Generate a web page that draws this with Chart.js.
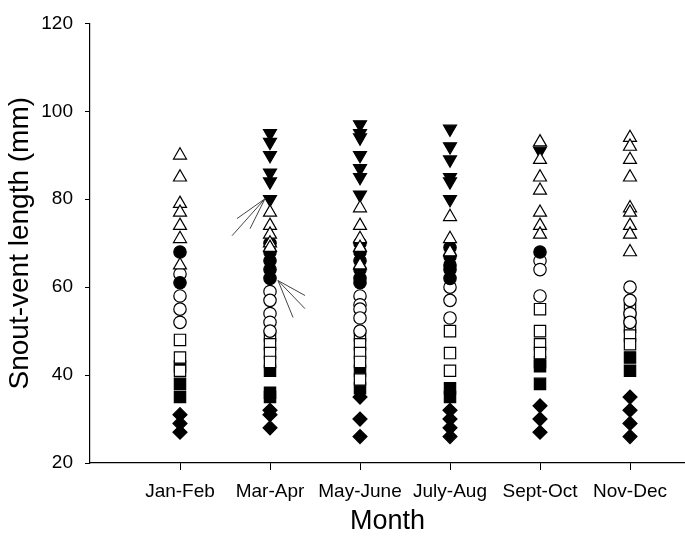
<!DOCTYPE html>
<html>
<head>
<meta charset="utf-8">
<script src="https://cdn.jsdelivr.net/npm/chart.js@4.4.1/dist/chart.umd.min.js"></script>
<style>
  body { margin: 0; background: #fff; }
  canvas { display: block; }
</style>
</head>
<body>
<canvas id="svlChart" width="685" height="541"></canvas>
<script>
// Month groups on the x axis
const months = ["Jan-Feb", "Mar-Apr", "May-June", "July-Aug", "Sept-Oct", "Nov-Dec"];
const yTicks = [20, 40, 60, 80, 100, 120];

// Snout-vent length (mm) per month group, one list per marker type
const filledDiamonds = [[31, 29, 27], [32, 31, 28], [35, 30, 26], [32, 30, 28, 26], [33, 30, 27], [35, 32, 29, 26]];
const filledSquares = [[42, 38, 35], [41, 36, 35], [41, 37], [37, 35], [43, 42, 38], [44, 41]];
const openSquares = [[48, 44, 41], [49, 47, 45, 43], [49, 47, 45, 43, 39], [50, 45, 41], [55, 50, 47, 45], [55, 53, 51, 49, 47]];
const openCircles = [[63, 58, 55, 52], [59, 57, 54, 52, 50], [58, 56, 55, 53, 50], [60, 57, 53], [66, 64, 58], [60, 57, 54, 52]];
const filledCircles = [[68, 61], [70, 68, 66, 64, 62], [70, 68, 66, 64, 62, 61], [69, 67, 65, 64, 62], [68], []];
const openTriangles = [[90, 85, 79, 77, 74, 71, 65], [77, 74, 72, 70, 69], [78, 74, 71, 69, 65], [76, 71, 68], [93, 89, 85, 82, 77, 74, 72], [94, 92, 89, 85, 78, 77, 74, 72, 68]];
const filledDownTriangles = [[], [95, 93, 90, 86, 84, 80], [97, 95, 94, 90, 87, 85, 81], [96, 92, 89, 85, 84, 80], [91], []];

// Annotation arrows in Mar-Apr (tip first, then line ends), in axis units
const arrowUpper = [[0.944, 80.1], [0.578, 71.7], [0.633, 75.6], [0.778, 73.3]];
const arrowLower = [[1.089, 61.5], [1.389, 58.1], [1.389, 55.1], [1.256, 53.1]];

function toPoints(groups) {
  const pts = [];
  groups.forEach((vals, i) => vals.forEach(v => pts.push({ x: i, y: v })));
  return pts;
}

function series(groups, style, radius, filled, rotation, order) {
  return {
    data: toPoints(groups),
    pointStyle: style,
    pointRadius: radius,
    pointRotation: rotation,
    pointBackgroundColor: filled ? "#000" : "#fff",
    pointBorderColor: "#000",
    pointBorderWidth: 1.2,
    showLine: false,
    order: order
  };
}

// draws the thin arrow lines
const arrowPlugin = {
  id: "arrows",
  afterDatasetsDraw(chart) {
    const { ctx, scales } = chart;
    ctx.save();
    ctx.strokeStyle = "#444";
    ctx.lineWidth = 1;
    [arrowUpper, arrowLower].forEach(a => {
      const tx = scales.x.getPixelForValue(a[0][0]);
      const ty = scales.y.getPixelForValue(a[0][1]);
      for (let k = 1; k < a.length; k++) {
        ctx.beginPath();
        ctx.moveTo(tx, ty);
        ctx.lineTo(scales.x.getPixelForValue(a[k][0]), scales.y.getPixelForValue(a[k][1]));
        ctx.stroke();
      }
    });
    ctx.restore();
  }
};

const font = "Liberation Sans";
const ctx = document.getElementById("svlChart").getContext("2d");
new Chart(ctx, {
  type: "scatter",
  data: {
    datasets: [
      series(filledDiamonds, "rectRot", 7, true, 0, 7),
      series(filledSquares, "rect", 8, true, 0, 6),
      series(openSquares, "rect", 8, false, 0, 5),
      series(openCircles, "circle", 6.2, false, 0, 4),
      series(filledCircles, "circle", 6.2, true, 0, 3),
      series(filledDownTriangles, "triangle", 7.5, true, 180, 2),
      series(openTriangles, "triangle", 7.5, false, 0, 1)
    ]
  },
  options: {
    responsive: false,
    animation: false,
    layout: { autoPadding: false, padding: { top: 22, right: 0, left: 0, bottom: 0 } },
    plugins: {
      legend: { display: false },
      tooltip: { enabled: false }
    },
    scales: {
      x: {
        type: "linear",
        min: -1,
        max: 5.611,
        afterBuildTicks: scale => { scale.ticks = months.map((m, i) => ({ value: i })); },
        afterFit: scale => {
          scale.height = 78;
          scale.paddingLeft = 0;
          scale.paddingRight = 0;
        },
        ticks: {
          autoSkip: false,
          maxRotation: 0,
          padding: 10,
          color: "#000",
          font: { family: font, size: 19 },
          callback: v => months[v]
        },
        grid: { drawOnChartArea: false, drawTicks: true, tickLength: 7, color: "#000", lineWidth: 1 },
        border: { display: true, color: "#000", width: 1.2 },
        title: {
          display: true,
          text: "Month",
          color: "#000",
          font: { family: font, size: 27 },
          padding: { top: 0, bottom: 3 }
        }
      },
      y: {
        min: 20,
        max: 120,
        afterBuildTicks: scale => { scale.ticks = yTicks.map(v => ({ value: v })); },
        afterFit: scale => { scale.width = 90; },
        ticks: {
          padding: 12,
          color: "#000",
          font: { family: font, size: 19 }
        },
        grid: { drawOnChartArea: false, drawTicks: true, tickLength: 5, color: "#000", lineWidth: 1 },
        border: { display: true, color: "#000", width: 1.2 },
        title: {
          display: true,
          text: "Snout-vent length (mm)",
          color: "#000",
          font: { family: font, size: 28 },
          padding: { top: 3, bottom: 0 }
        }
      }
    }
  },
  plugins: [arrowPlugin]
});
</script>
</body>
</html>
